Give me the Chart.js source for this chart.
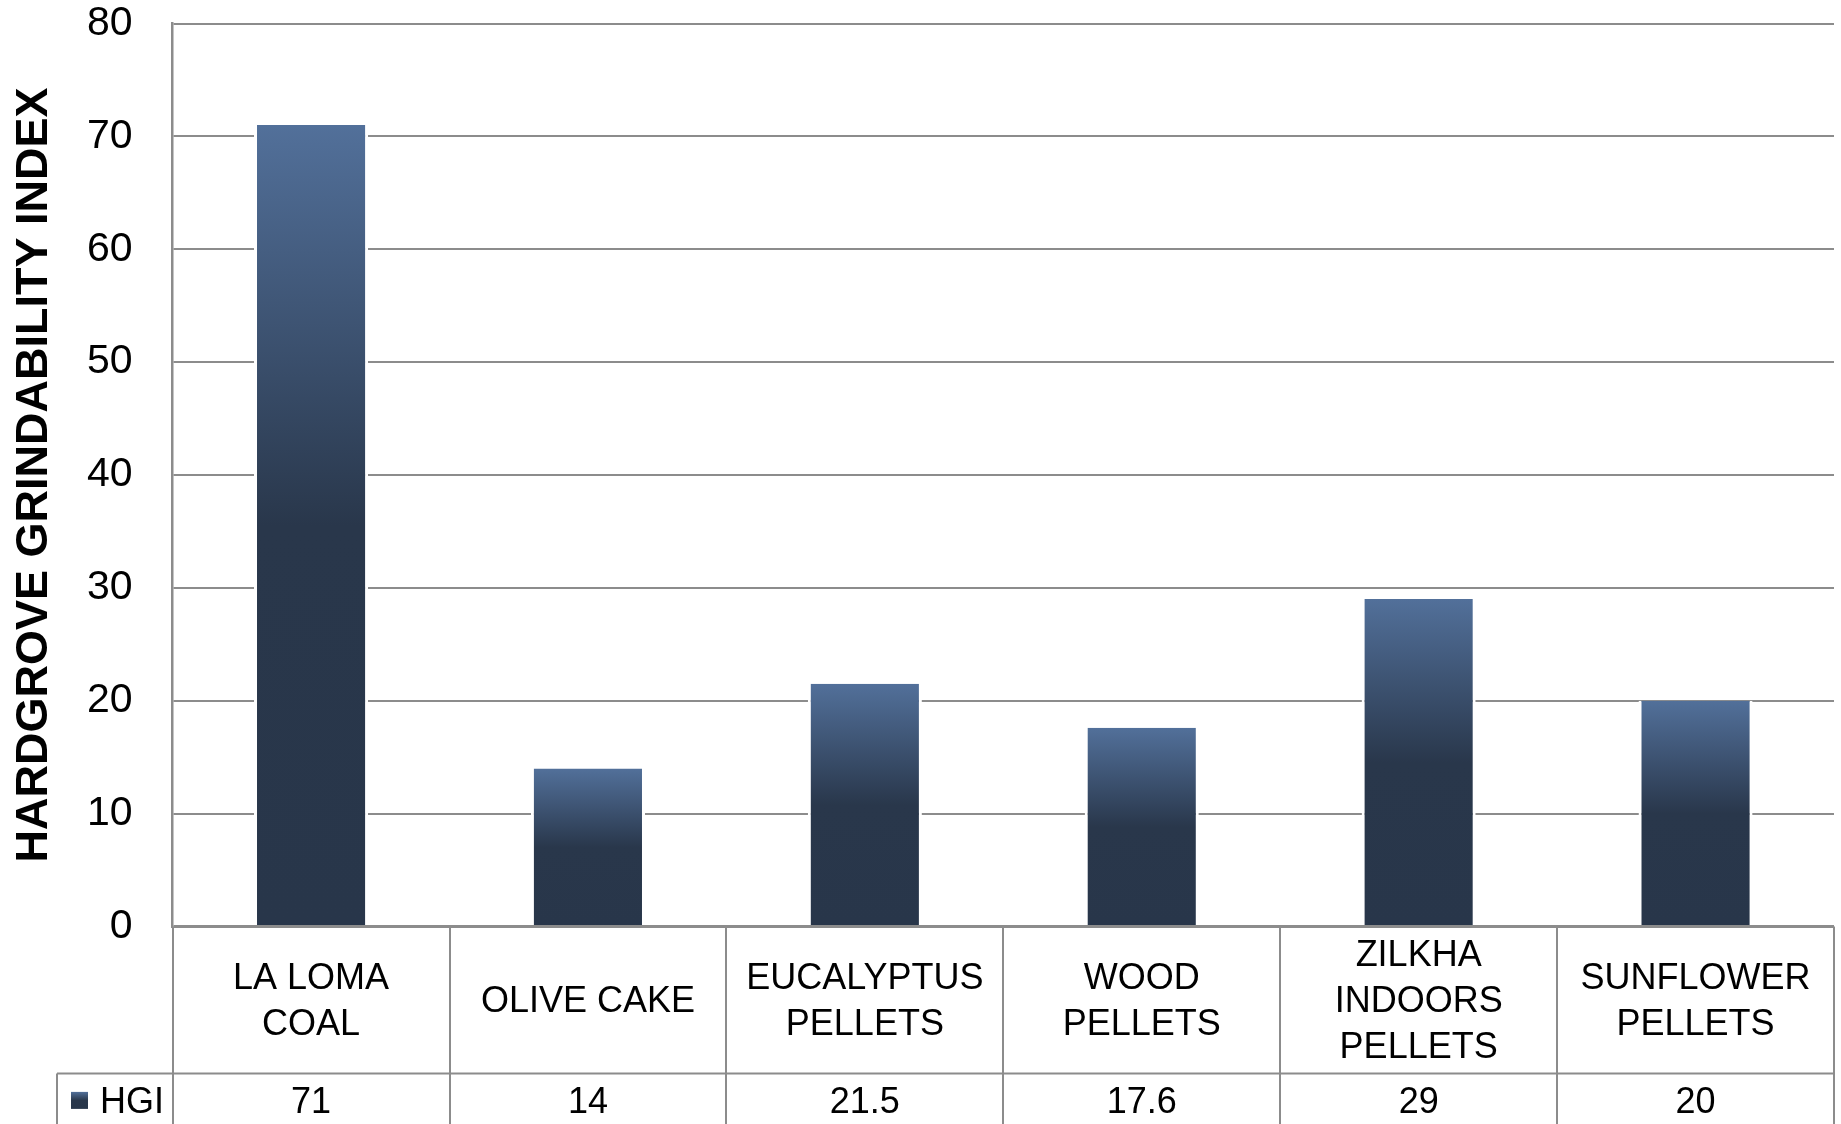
<!DOCTYPE html>
<html>
<head>
<meta charset="utf-8">
<script src="https://cdn.jsdelivr.net/npm/chart.js@4/dist/chart.umd.min.js"></script>
<style>
  html, body { margin: 0; padding: 0; background: #ffffff; }
  canvas { display: block; }
</style>
</head>
<body>
<canvas id="hgi" width="1841" height="1124"></canvas>
<script>
// Fuel samples (each label line is a separate string)
const categories = [
  ['LA LOMA', 'COAL'],
  ['OLIVE CAKE'],
  ['EUCALYPTUS', 'PELLETS'],
  ['WOOD', 'PELLETS'],
  ['ZILKHA', 'INDOORS', 'PELLETS'],
  ['SUNFLOWER', 'PELLETS']
];
const seriesName = 'HGI';
const hgiValues = [71, 14, 21.5, 17.6, 29, 20];
const valueLabels = ['71', '14', '21.5', '17.6', '29', '20'];
const yTicks = [0, 10, 20, 30, 40, 50, 60, 70, 80];

const FONT = "'Liberation Sans', Arial, sans-serif";
const LINE = '#8c8c8c';
const TOP_COLOR = '#52709a';
const DARK_COLOR = '#29374b';

function barGradient(ctx, yTop, yBottom) {
  const g = ctx.createLinearGradient(0, yTop, 0, yBottom);
  g.addColorStop(0, TOP_COLOR);
  g.addColorStop(0.5, DARK_COLOR);
  g.addColorStop(1, '#28364a');
  return g;
}

// Data table drawn under the plot, aligned to the category scale
const dataTable = {
  id: 'dataTable',
  afterDraw(chart) {
    const { ctx, chartArea, scales } = chart;
    const x = scales.x;
    const top = chartArea.bottom;
    const rowSplit = top + 147;
    const bottom = chart.height;
    const legendLeft = 57;
    ctx.save();
    ctx.strokeStyle = LINE;
    ctx.lineWidth = 2;
    // vertical cell borders
    for (let i = 0; i <= categories.length; i++) {
      const px = Math.round(x.getPixelForValue(i - 0.5));
      ctx.beginPath();
      ctx.moveTo(px, top);
      ctx.lineTo(px, bottom);
      ctx.stroke();
    }
    // horizontal split between label row and value row
    ctx.beginPath();
    ctx.moveTo(legendLeft, rowSplit);
    ctx.lineTo(x.getPixelForValue(categories.length - 0.5), rowSplit);
    ctx.stroke();
    // legend cell left border
    ctx.beginPath();
    ctx.moveTo(legendLeft, rowSplit);
    ctx.lineTo(legendLeft, bottom);
    ctx.stroke();

    ctx.fillStyle = '#000000';
    ctx.textAlign = 'center';
    ctx.textBaseline = 'middle';
    ctx.font = '36px ' + FONT;
    const lineGap = 46;
    const labelMid = (top + rowSplit) / 2 + 2;
    categories.forEach((lines, i) => {
      const cx = x.getPixelForValue(i);
      const start = labelMid - (lines.length - 1) * lineGap / 2;
      lines.forEach((t, k) => ctx.fillText(t, cx, start + k * lineGap));
    });
    const valueMid = rowSplit + 30;
    valueLabels.forEach((t, i) => {
      ctx.fillText(t, x.getPixelForValue(i), valueMid);
    });

    // legend key
    const keyMid = rowSplit + 27;
    ctx.fillStyle = barGradient(ctx, keyMid - 8.5, keyMid + 8.5);
    ctx.fillRect(71, keyMid - 8.5, 17, 17);
    ctx.fillStyle = '#000000';
    ctx.textAlign = 'left';
    ctx.fillText(seriesName, 100, valueMid);
    ctx.restore();
  }
};

new Chart(document.getElementById('hgi'), {
  type: 'bar',
  data: {
    labels: categories.map(c => c.join(' ')),
    datasets: [{
      label: seriesName,
      data: hgiValues,
      backgroundColor(c) {
        const chart = c.chart;
        const { chartArea } = chart;
        if (!chartArea || c.raw === undefined) return DARK_COLOR;
        const y = chart.scales.y;
        return barGradient(chart.ctx, y.getPixelForValue(c.raw), y.getPixelForValue(0));
      },
      borderColor: '#ffffff',
      borderWidth: { left: 3, right: 3, top: 0, bottom: 0 },
      borderSkipped: false,
      barPercentage: 0.412,
      categoryPercentage: 1
    }]
  },
  options: {
    responsive: false,
    animation: false,
    devicePixelRatio: 1,
    layout: { padding: { top: 23.5, right: 7, bottom: 197.6, left: 0 } },
    plugins: {
      legend: { display: false },
      tooltip: { enabled: false }
    },
    scales: {
      x: { display: false },
      y: {
        min: 0,
        max: 80,
        afterBuildTicks(scale) { scale.ticks = yTicks.map(v => ({ value: v })); },
        afterFit(scale) { scale.width = 172.6; },
        ticks: {
          color: '#000000',
          padding: 0,
          font: { family: FONT, size: 41, lineHeight: 1 }
        },
        grid: {
          color: LINE,
          lineWidth: c => (c.tick && c.tick.value === 0 ? 3 : 2),
          drawTicks: true,
          tickLength: 40,
          tickColor: 'rgba(0,0,0,0)'
        },
        border: { display: true, color: LINE, width: 2.5 },
        title: {
          display: true,
          text: 'HARDGROVE GRINDABILITY INDEX',
          color: '#000000',
          font: { family: FONT, size: 45, weight: 'bold' },
          padding: { top: 8, bottom: 0 }
        }
      }
    }
  },
  plugins: [dataTable]
});
</script>
</body>
</html>
